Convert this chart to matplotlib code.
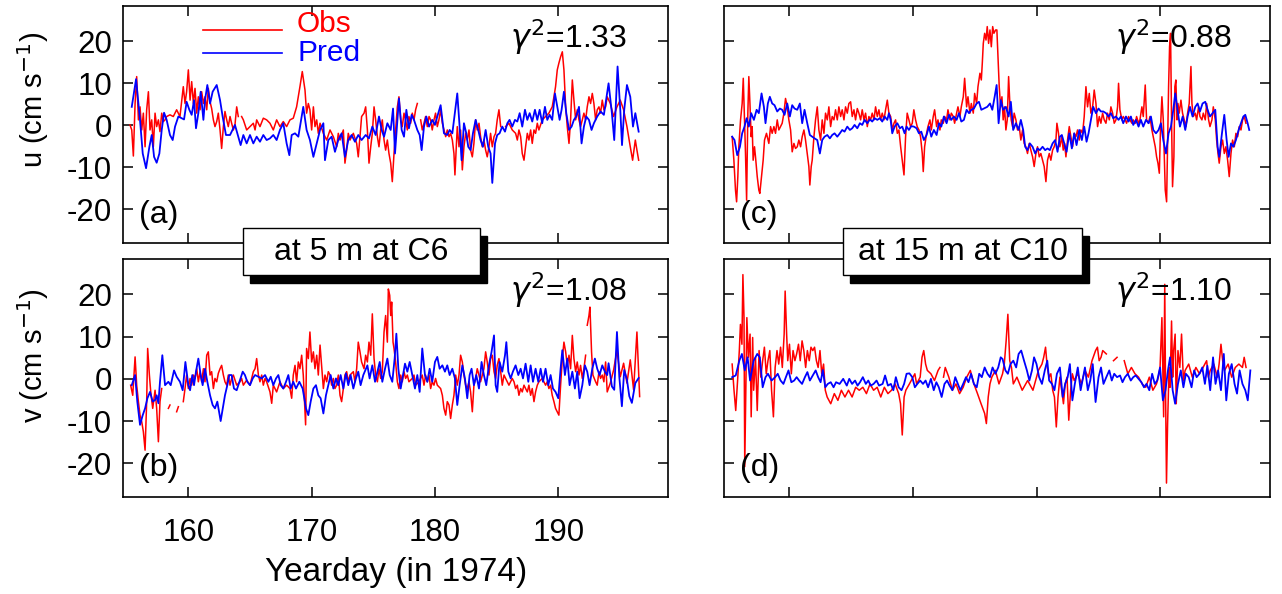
import numpy as np
import matplotlib
matplotlib.use('Agg')
import matplotlib.pyplot as plt
from matplotlib.patches import Rectangle
from matplotlib.lines import Line2D

plt.rcParams['font.family'] = ['Liberation Sans', 'DejaVu Sans']
plt.rcParams['mathtext.fontset'] = 'dejavusans'
plt.rcParams['axes.unicode_minus'] = False
nan = np.nan

# ---------------- data (yearday, cm/s) ----------------
a_obs = [(155.27,0.1),(155.41,-1.1),(155.54,-7.3),(155.68,5.2),(155.81,11.6),(155.95,1.3),(156.08,4.4),(156.22,-1.1),(156.35,2.9),(156.49,-5.1),(156.62,3.7),(156.76,8.0),(156.89,-1.1),(157.03,1.3),(157.16,-5.1),(157.30,2.9),(157.43,-0.3),(157.57,1.3),(157.70,-1.5),(157.84,2.9),(157.97,0.9),(158.11,1.3),(158.24,2.1),(158.51,2.5),(158.78,2.1),(159.05,3.7),(159.32,2.1),(159.59,9.2),(159.73,5.2),(159.86,8.0),(160.00,13.2),(160.14,6.0),(160.27,10.4),(160.41,5.2),(160.54,8.8),(160.68,2.9),(160.81,6.8),(160.95,3.7),(161.08,8.0),(161.22,5.2),(161.35,6.8),(161.49,3.7),(161.62,8.8),(161.76,5.6),(161.89,4.0),(162.03,1.3),(162.16,-0.3),(162.30,0.9),(162.43,2.9),(162.57,-1.1),(162.70,-5.5),(162.84,-0.3),(162.97,3.3),(163.11,1.3),(163.24,-0.3),(163.38,2.1),(163.51,0.5),(163.65,-1.1),(163.78,0.1),(163.92,4.4),(164.05,2.1),(164.2,nan),(164.32,2.1),(164.46,1.3),(164.73,-1.1),(165.00,-0.3),(165.27,0.5),(165.41,-1.1),(165.54,1.3),(165.81,-0.3),(166.08,1.7),(166.35,1.3),(166.62,0.5),(166.89,-1.1),(167.16,1.3),(167.43,-0.3),(167.70,0.9),(167.97,-0.3),(168.24,1.3),(168.51,1.7),(168.78,4.4),(169.05,9.2),(169.24,12.8),(169.46,8.4),(169.59,2.9),(169.73,5.2),(169.86,3.7),(170.00,-1.1),(170.14,4.4),(170.27,-0.3),(170.41,1.3),(170.54,-1.9),(170.68,0.5),(170.95,-1.9),(171.22,-3.5),(171.49,-1.1),(171.76,-2.7),(172.03,-5.1),(172.16,-1.9),(172.30,-3.5),(172.57,-1.1),(172.70,-9.0),(172.84,-5.9),(172.97,-1.9),(173.11,-3.5),(173.38,-1.9),(173.65,-4.3),(173.78,-7.5),(173.92,-2.7),(174.05,2.1),(174.25,2.9),(174.38,4.4),(174.52,-1.1),(174.65,-9.0),(174.79,-5.1),(174.92,-1.9),(175.06,4.4),(175.19,1.3),(175.33,-2.7),(175.46,-5.1),(175.60,-1.1),(175.73,1.3),(175.87,-3.5),(176.00,-5.9),(176.14,-3.5),(176.27,-6.7),(176.41,-9.0),(176.54,-13.4),(176.68,-6.7),(176.81,-1.1),(176.95,4.4),(177.08,6.8),(177.22,1.3),(177.35,-0.3),(177.49,2.9),(177.62,1.3),(177.76,-1.1),(177.89,2.1),(178.03,0.5),(178.16,2.9),(178.30,1.3),(178.43,3.7),(178.57,5.2),(178.7,nan),(178.84,1.3),(178.97,-1.1),(179.11,0.5),(179.24,2.1),(179.38,-0.3),(179.52,2.1),(179.65,1.3),(179.78,-1.1),(179.92,1.3),(180.05,2.9),(180.19,-0.3),(180.32,1.3),(180.46,3.7),(180.60,0.5),(180.73,-1.1),(180.87,-2.7),(181.00,-1.1),(181.14,-2.7),(181.27,-1.9),(181.41,-3.5),(181.54,-6.7),(181.62,-11.8),(181.73,-5.1),(181.81,-0.3),(181.95,-5.1),(182.08,-1.1),(182.22,-10.6),(182.35,-5.1),(182.49,-1.9),(182.62,-3.5),(182.76,-1.1),(182.89,-5.9),(183.03,-7.5),(183.16,-4.3),(183.30,1.3),(183.43,-1.1),(183.57,0.5),(183.70,-2.7),(183.84,-5.1),(183.97,-3.5),(184.11,-5.9),(184.24,-7.5),(184.38,-5.1),(184.51,-1.9),(184.65,-5.1),(184.79,-2.7),(184.92,-1.9),(185.05,1.3),(185.19,3.7),(185.33,-0.3),(185.5,nan),(185.73,-0.3),(186.00,0.5),(186.27,-1.1),(186.54,-1.9),(186.68,-3.5),(186.81,-1.1),(186.95,-2.7),(187.08,-6.7),(187.22,-8.3),(187.35,-5.1),(187.49,-1.9),(187.62,-3.5),(187.76,-1.1),(187.89,-4.3),(188.03,-1.1),(188.16,-1.9),(188.30,0.5),(188.43,-1.1),(188.70,1.3),(188.97,2.1),(189.24,2.9),(189.51,4.4),(189.65,6.8),(189.78,9.2),(189.92,13.2),(190.05,14.8),(190.19,16.3),(190.33,17.5),(190.46,13.2),(190.60,4.4),(190.73,-0.3),(190.87,-4.3),(191.00,1.3),(191.14,10.8),(191.27,6.0),(191.41,1.3),(191.54,3.7),(191.68,1.3),(191.81,-0.3),(191.95,1.3),(192.08,2.9),(192.22,1.3),(192.35,4.4),(192.49,6.8),(192.62,5.2),(192.76,7.6),(192.89,5.2),(193.03,1.3),(193.16,3.7),(193.30,4.4),(193.43,2.9),(193.57,6.0),(193.70,3.7),(193.84,4.4),(193.97,6.8),(194.22,5.2),(194.49,2.1),(194.76,4.4),(195.03,6.0),(195.30,3.7),(195.57,-0.3),(195.84,-5.1),(196.03,-8.3),(196.25,-3.5),(196.38,-5.9),(196.52,-8.3)]

a_pred = [(155.41,4.4),(155.76,11.0),(156.08,1.3),(156.30,-6.7),(156.57,-10.2),(156.84,-5.1),(157.03,-2.3),(157.22,-7.5),(157.43,-8.9),(157.65,-6.7),(157.84,-1.1),(158.03,3.0),(158.24,1.3),(158.51,-2.3),(158.73,-3.5),(158.92,-0.3),(159.19,2.1),(159.46,1.7),(159.65,1.4),(159.86,5.6),(160.08,3.7),(160.27,2.5),(160.46,6.0),(160.62,-0.7),(160.81,2.9),(161.00,8.0),(161.22,1.3),(161.35,6.0),(161.54,9.6),(161.76,5.2),(161.97,8.0),(162.30,9.6),(162.57,6.0),(162.78,2.1),(163.05,-2.3),(163.38,-2.3),(163.78,0.1),(164.05,-2.7),(164.24,-4.7),(164.46,-2.3),(164.73,-4.3),(165.00,-2.3),(165.27,-4.3),(165.54,-2.7),(165.81,-3.9),(166.08,-2.3),(166.35,-3.5),(166.62,-3.1),(166.89,-2.3),(167.16,-3.5),(167.43,-1.1),(167.70,0.5),(167.97,-4.3),(168.19,-7.1),(168.38,-2.3),(168.65,-1.9),(168.92,-2.7),(169.32,4.4),(169.59,-1.1),(169.86,-3.5),(170.14,-7.5),(170.41,-4.3),(170.68,-1.1),(170.95,0.5),(171.08,-8.3),(171.35,-3.5),(171.62,-2.7),(171.89,-6.3),(172.16,-3.5),(172.43,-1.9),(172.70,-7.5),(172.97,-3.5),(173.24,-2.3),(173.51,-3.9),(173.78,-2.3),(174.05,-3.5),(174.38,-2.3),(174.65,-3.1),(174.92,-0.3),(175.19,-2.3),(175.46,2.1),(175.68,-1.1),(175.87,-2.7),(176.14,0.5),(176.41,-1.1),(176.60,4.0),(176.76,-6.7),(176.95,1.3),(177.08,6.4),(177.30,-1.1),(177.49,-2.7),(177.68,3.7),(177.89,-0.7),(178.11,2.5),(178.30,1.3),(178.57,-1.1),(178.76,-2.3),(178.92,-5.9),(179.11,-0.3),(179.30,2.1),(179.52,-0.3),(179.78,1.3),(180.00,0.1),(180.19,2.1),(180.46,4.8),(180.73,-1.9),(181.00,-2.3),(181.19,-1.1),(181.41,-1.9),(181.81,7.6),(182.00,-0.3),(182.16,-8.3),(182.35,0.5),(182.54,-1.9),(182.70,-5.1),(182.89,-5.9),(183.08,-1.9),(183.30,1.3),(183.51,-1.1),(183.70,-3.5),(183.89,-5.1),(184.11,-1.1),(184.32,-5.1),(184.51,-6.7),(184.65,-13.7),(184.87,-4.3),(185.05,-2.3),(185.24,-1.9),(185.46,-0.3),(185.68,-1.5),(185.87,0.5),(186.05,1.3),(186.27,-0.3),(186.49,1.3),(186.68,0.9),(186.87,2.9),(187.08,-0.3),(187.30,3.7),(187.49,1.3),(187.68,2.9),(187.89,0.9),(188.11,3.7),(188.30,1.3),(188.49,3.7),(188.70,0.5),(188.92,4.4),(189.11,1.3),(189.30,2.5),(189.51,1.3),(189.73,7.6),(189.92,4.4),(190.11,1.3),(190.27,3.7),(190.46,8.0),(190.65,2.9),(190.87,-1.1),(191.08,-0.3),(191.27,1.3),(191.46,2.1),(191.68,4.4),(191.89,-4.3),(192.08,-0.3),(192.27,2.1),(192.49,1.3),(192.70,-1.1),(192.89,0.5),(193.16,2.1),(193.43,3.3),(193.70,2.5),(194.08,10.0),(194.35,2.9),(194.54,-3.5),(194.81,14.0),(195.03,3.7),(195.17,-4.7),(195.35,3.7),(195.57,9.6),(195.84,6.8),(196.06,-0.3),(196.25,2.9),(196.52,-1.5)]

b_obs = [(155.32,-1.5),(155.49,-3.9),(155.68,5.2),(155.81,-1.5),(155.95,-5.4),(156.08,-8.6),(156.22,-10.2),(156.35,-12.5),(156.49,-16.9),(156.62,-5.4),(156.70,7.2),(156.84,0.9),(156.95,-3.1),(157.11,-7.0),(157.30,-2.7),(157.43,-7.0),(157.57,-14.9),(157.70,-5.4),(157.84,-2.3),(158.0,nan),(158.38,-7.0),(158.51,-6.2),(158.7,nan),(159.05,-7.8),(159.19,-6.6),(159.4,nan),(159.59,-5.4),(159.73,-2.3),(159.86,0.9),(160.00,-2.3),(160.14,0.1),(160.27,-1.5),(160.41,0.9),(160.54,0.1),(160.68,2.4),(160.81,-0.7),(160.95,1.7),(161.08,-0.7),(161.22,2.4),(161.35,-0.7),(161.49,5.6),(161.62,6.4),(161.76,0.9),(161.89,1.7),(162.03,-2.3),(162.16,0.1),(162.30,-0.7),(162.43,1.3),(162.57,2.4),(162.70,3.2),(162.84,0.9),(162.97,-0.7),(163.11,-1.5),(163.24,0.9),(163.38,-1.5),(163.51,0.1),(163.65,0.9),(163.92,-1.5),(164.19,-0.7),(164.32,0.1),(164.46,-1.5),(164.73,-0.3),(165.00,-1.5),(165.27,1.7),(165.41,2.4),(165.54,4.8),(165.68,0.9),(165.81,-0.7),(165.95,0.9),(166.08,-1.5),(166.22,0.1),(166.35,-0.7),(166.62,-3.1),(166.76,-5.8),(166.89,-1.5),(167.16,-3.1),(167.43,-0.7),(167.70,-2.3),(167.97,-1.5),(168.24,-2.3),(168.38,-4.6),(168.51,0.9),(168.65,3.2),(168.78,-0.7),(168.92,4.0),(169.05,2.4),(169.19,5.6),(169.32,0.9),(169.51,-10.9),(169.59,7.2),(169.73,4.8),(169.86,11.1),(170.00,4.0),(170.14,6.4),(170.27,2.4),(170.41,5.6),(170.54,0.9),(170.68,8.0),(170.81,3.2),(170.95,-2.3),(171.08,0.9),(171.22,-0.7),(171.35,1.7),(171.49,0.9),(171.62,-1.5),(171.76,0.1),(171.89,-2.3),(172.03,-1.5),(172.16,0.9),(172.30,-3.9),(172.43,-5.4),(172.57,-2.3),(172.70,0.9),(172.84,1.7),(172.97,-0.7),(173.11,0.9),(173.38,1.7),(173.51,-0.7),(173.65,2.4),(173.78,8.7),(173.92,6.4),(174.05,4.0),(174.25,2.4),(174.38,5.6),(174.52,4.0),(174.65,8.7),(174.79,5.6),(174.92,15.4),(175.06,4.8),(175.19,0.9),(175.33,-0.7),(175.46,2.4),(175.60,0.1),(175.73,1.7),(175.87,11.1),(176.00,15.0),(176.14,8.7),(176.22,21.3),(176.33,19.8),(176.41,15.0),(176.49,18.2),(176.60,8.7),(176.68,7.2),(176.81,4.0),(176.95,-0.7),(177.08,-2.3),(177.22,0.9),(177.35,-0.7),(177.49,1.7),(177.62,0.1),(177.76,0.9),(177.89,-0.7),(178.16,0.1),(178.30,0.9),(178.43,-1.5),(178.70,-0.7),(178.97,0.9),(179.11,-1.5),(179.24,0.9),(179.38,-0.7),(179.52,0.9),(179.65,-2.3),(179.78,-0.7),(179.92,-1.5),(180.05,0.1),(180.19,-1.5),(180.46,-2.3),(180.60,-3.9),(180.73,-7.0),(180.87,-8.6),(181.00,-5.4),(181.14,-6.2),(181.27,-9.4),(181.41,-6.2),(181.54,-3.9),(181.68,0.9),(181.81,-1.5),(181.95,0.9),(182.08,5.6),(182.22,4.0),(182.35,0.9),(182.49,-1.5),(182.62,-2.3),(182.76,-0.7),(182.89,-3.1),(183.03,-7.8),(183.16,-1.5),(183.30,0.1),(183.43,2.4),(183.57,0.9),(183.70,-0.7),(183.84,0.9),(183.97,2.4),(184.11,6.4),(184.24,4.0),(184.38,0.9),(184.51,4.8),(184.65,5.6),(184.79,1.7),(184.92,0.1),(185.05,3.2),(185.19,4.8),(185.33,1.7),(185.46,-1.5),(185.60,0.9),(185.73,0.1),(186.00,-1.5),(186.27,0.1),(186.41,-0.7),(186.54,-2.3),(186.68,-1.5),(186.81,-3.9),(186.95,-2.3),(187.08,-3.1),(187.22,-1.5),(187.35,-2.3),(187.49,-3.1),(187.62,-1.5),(187.76,-3.9),(187.89,-2.3),(188.03,-5.4),(188.16,-3.1),(188.30,-1.5),(188.43,-0.7),(188.70,0.1),(188.97,-1.5),(189.11,-0.7),(189.24,-2.3),(189.38,-1.5),(189.51,-3.9),(189.65,-5.4),(189.78,-7.0),(189.92,-7.8),(190.05,-8.6),(190.19,-1.5),(190.33,4.8),(190.46,8.7),(190.60,6.4),(190.73,3.2),(190.87,5.6),(191.00,2.4),(191.14,10.3),(191.27,4.8),(191.41,1.7),(191.54,4.0),(191.68,0.9),(191.81,3.2),(191.95,0.1),(192.08,2.4),(192.22,5.6),(192.3,nan),(192.35,12.7),(192.49,15.0),(192.57,17.0),(192.70,6.4),(192.81,0.9),(193.03,-0.7),(193.16,-1.5),(193.30,1.7),(193.43,0.1),(193.57,0.9),(193.70,-0.7),(193.84,4.0),(193.97,-3.1),(194.22,-1.0),(194.49,2.1),(194.76,6.8),(195.03,0.5),(195.30,3.7),(195.57,-1.0),(195.84,4.5),(196.11,-2.6),(196.38,11.1),(196.60,-4.2)]

b_pred = [(155.41,-1.5),(155.68,0.9),(155.86,-5.4),(156.08,-10.9),(156.30,-8.6),(156.49,-7.0),(156.68,-4.6),(156.89,-3.1),(157.11,-5.4),(157.30,-5.0),(157.43,-3.9),(157.57,-5.8),(157.70,-0.7),(157.89,5.6),(158.11,-1.5),(158.38,-0.7),(158.57,-1.5),(158.84,2.0),(159.05,0.5),(159.32,-0.7),(159.54,-2.7),(159.76,4.0),(160.00,-1.5),(160.14,-2.7),(160.32,0.9),(160.46,-1.5),(160.62,1.7),(160.81,4.8),(161.00,0.9),(161.16,-1.5),(161.35,2.4),(161.54,-0.7),(161.76,-3.9),(161.97,-6.2),(162.16,-7.0),(162.35,-5.4),(162.62,-10.0),(162.84,-6.2),(162.97,-3.9),(163.16,-1.5),(163.32,0.9),(163.51,0.9),(163.70,-2.3),(163.92,-2.7),(164.14,-0.7),(164.41,1.7),(164.59,0.9),(164.78,-0.7),(165.00,-1.5),(165.22,0.1),(165.41,0.9),(165.68,0.5),(165.95,0.1),(166.22,0.9),(166.49,-0.7),(166.68,0.5),(166.89,-1.5),(167.11,0.1),(167.30,0.9),(167.49,-1.5),(167.70,-2.3),(167.92,-0.7),(168.11,0.9),(168.30,-2.3),(168.51,-0.7),(168.73,-2.3),(169.00,-0.7),(169.27,-2.3),(169.54,-7.0),(169.73,-8.6),(169.92,-5.4),(170.14,-2.3),(170.35,-1.5),(170.54,-3.9),(170.73,-4.6),(170.95,-8.2),(171.16,-3.9),(171.35,-1.5),(171.54,0.9),(171.76,-2.3),(171.97,0.1),(172.16,-1.5),(172.35,0.9),(172.57,-2.3),(172.78,1.3),(172.97,-1.5),(173.16,0.9),(173.38,-2.3),(173.59,0.1),(173.78,1.7),(173.97,-1.5),(174.19,0.9),(174.52,3.2),(174.70,0.1),(174.92,3.2),(175.14,-0.7),(175.33,1.7),(175.52,4.0),(175.73,-0.7),(175.95,2.4),(176.14,4.8),(176.33,0.9),(176.54,-0.7),(176.73,4.8),(176.87,10.7),(177.03,2.4),(177.22,-2.3),(177.41,0.9),(177.57,3.6),(177.76,1.7),(177.95,4.0),(178.16,0.9),(178.38,-2.3),(178.57,0.9),(178.76,-3.1),(178.97,7.2),(179.19,0.9),(179.38,-0.7),(179.57,2.4),(179.78,-0.7),(180.00,4.0),(180.19,5.2),(180.38,2.4),(180.60,3.2),(180.81,1.7),(181.00,3.2),(181.19,0.9),(181.41,2.4),(181.62,0.1),(181.81,-6.2),(182.00,-1.5),(182.22,3.2),(182.43,0.1),(182.62,-4.6),(182.81,0.9),(182.97,2.4),(183.16,-1.5),(183.35,0.9),(183.57,-2.3),(183.78,4.0),(183.97,0.9),(184.16,-1.5),(184.38,3.2),(184.59,6.4),(184.79,10.3),(184.92,-1.5),(185.05,-3.1),(185.24,4.0),(185.46,1.7),(185.68,5.6),(185.79,8.7),(185.95,1.7),(186.14,0.1),(186.32,1.7),(186.54,3.2),(186.76,0.9),(186.95,2.4),(187.14,0.1),(187.35,3.6),(187.57,-0.7),(187.76,3.2),(187.95,-0.7),(188.16,2.4),(188.38,-0.7),(188.57,2.4),(188.76,-0.7),(188.97,2.4),(189.19,-1.5),(189.38,0.9),(189.57,-2.3),(189.78,-3.1),(190.00,-4.6),(190.19,2.4),(190.33,6.8),(190.54,0.9),(190.73,4.8),(190.92,-1.5),(191.14,1.7),(191.35,-2.3),(191.54,1.7),(191.73,-4.6),(191.95,-1.5),(192.16,3.2),(192.35,1.7),(192.54,-1.5),(192.76,2.4),(192.97,4.8),(193.16,2.4),(193.35,0.9),(193.57,3.2),(193.78,1.7),(193.97,0.9),(194.08,3.7),(194.35,-1.8),(194.54,-2.6),(194.76,11.1),(194.95,0.5),(195.16,-6.5),(195.35,2.1),(195.57,-0.2),(195.76,-4.1),(195.97,-5.7),(196.25,-1.0),(196.52,0.2)]

c_obs = [(155.36,-2.7),(155.50,-8.3),(155.63,-15.4),(155.72,-18.2),(155.82,-12.2),(155.90,-5.1),(156.04,1.3),(156.17,5.2),(156.26,11.2),(156.36,1.3),(156.44,-6.7),(156.53,-17.8),(156.63,2.9),(156.71,11.6),(156.80,5.2),(156.90,-2.7),(156.98,-0.3),(157.06,-8.3),(157.17,-5.1),(157.25,-7.5),(157.39,-12.2),(157.52,-15.4),(157.60,-16.2),(157.71,-13.0),(157.87,-8.3),(157.98,-3.5),(158.14,-1.9),(158.33,-4.3),(158.47,-0.3),(158.60,-1.9),(158.74,-0.3),(158.87,-1.9),(159.01,1.3),(159.14,-1.1),(159.28,-0.3),(159.41,0.5),(159.55,2.9),(159.68,6.4),(159.82,4.4),(159.95,1.3),(160.09,-1.1),(160.22,-6.3),(160.36,-4.3),(160.49,-5.5),(160.63,-5.1),(160.76,-3.5),(160.90,-5.1),(161.03,-2.7),(161.17,-1.1),(161.30,-3.5),(161.44,-6.7),(161.57,-9.8),(161.65,-14.2),(161.76,-9.8),(161.84,-8.3),(161.98,-2.7),(162.11,1.3),(162.25,4.4),(162.38,-1.1),(162.52,-3.5),(162.65,1.3),(162.79,-1.9),(162.92,2.9),(163.06,1.3),(163.19,4.4),(163.33,-0.3),(163.46,2.1),(163.60,1.3),(163.73,3.7),(163.87,1.3),(164.00,4.4),(164.14,2.1),(164.27,3.7),(164.41,1.3),(164.54,4.4),(164.68,2.9),(164.81,5.2),(164.95,5.6),(165.08,2.1),(165.22,3.7),(165.35,1.3),(165.49,4.0),(165.62,2.9),(165.76,1.3),(165.89,3.7),(166.03,1.3),(166.16,2.9),(166.30,-0.3),(166.43,2.1),(166.57,1.3),(166.70,2.9),(166.84,1.3),(166.97,4.4),(167.11,2.1),(167.24,3.7),(167.38,1.3),(167.51,2.9),(167.65,1.3),(167.78,3.7),(167.92,6.0),(168.05,2.9),(168.19,2.1),(168.32,-1.1),(168.46,0.5),(168.59,1.3),(168.73,-1.9),(168.86,-1.1),(169.00,-5.1),(169.13,-8.3),(169.27,-11.8),(169.40,-2.7),(169.53,2.9),(169.67,1.3),(169.80,-0.3),(169.94,0.5),(170.07,3.7),(170.21,1.3),(170.34,-0.3),(170.48,-1.1),(170.61,-2.7),(170.75,-6.7),(170.83,-11.0),(170.94,-5.1),(171.10,-1.9),(171.21,-0.3),(171.37,1.3),(171.48,-1.1),(171.64,2.1),(171.75,3.7),(171.91,-0.3),(172.02,1.3),(172.18,-1.1),(172.29,1.3),(172.45,0.5),(172.56,2.1),(172.72,1.3),(172.83,3.7),(172.99,1.3),(173.10,2.9),(173.26,2.1),(173.37,0.5),(173.53,2.9),(173.64,4.4),(173.80,2.1),(173.91,4.4),(174.07,6.8),(174.18,11.2),(174.34,4.4),(174.45,6.8),(174.61,2.9),(174.72,5.2),(174.88,2.9),(174.99,7.6),(175.15,5.2),(175.26,9.2),(175.42,12.4),(175.53,10.8),(175.61,14.8),(175.69,19.5),(175.80,21.9),(175.91,20.3),(176.01,23.5),(176.12,19.5),(176.23,22.7),(176.34,18.7),(176.45,23.5),(176.55,21.9),(176.69,22.7),(176.79,22.7),(176.87,17.1),(176.98,9.2),(177.09,4.4),(177.20,6.8),(177.30,1.3),(177.41,4.4),(177.52,-1.1),(177.63,1.3),(177.74,11.6),(177.84,5.2),(177.95,1.3),(178.06,-0.3),(178.19,2.9),(178.33,1.3),(178.46,-1.1),(178.60,-0.3),(178.73,-3.5),(178.87,-1.1),(179.00,-4.3),(179.14,-5.1),(179.27,-6.7),(179.41,-4.3),(179.54,-5.9),(179.68,-7.5),(179.81,-9.8),(179.95,-6.7),(180.08,-5.1),(180.22,-7.5),(180.35,-6.7),(180.49,-8.3),(180.62,-9.8),(180.76,-13.4),(180.89,-8.3),(181.03,-6.7),(181.16,-8.3),(181.30,-5.9),(181.43,-5.1),(181.57,-3.5),(181.65,0.5),(181.78,-1.9),(181.89,-5.1),(182.05,-2.7),(182.16,-5.9),(182.27,-4.3),(182.38,-7.5),(182.51,-3.5),(182.65,-0.3),(182.78,-2.7),(182.92,-5.1),(183.05,-1.9),(183.19,-2.7),(183.32,-1.1),(183.46,-3.5),(183.59,-1.1),(183.73,-1.9),(183.86,2.1),(184.00,9.2),(184.13,4.4),(184.27,7.6),(184.40,2.9),(184.54,4.4),(184.67,8.4),(184.81,5.2),(184.94,-0.3),(185.08,2.1),(185.21,0.5),(185.35,2.9),(185.48,1.3),(185.62,0.5),(185.75,2.9),(185.89,1.3),(186.02,4.4),(186.16,2.9),(186.29,0.5),(186.43,1.3),(186.56,4.4),(186.64,10.0),(186.75,3.7),(186.91,1.3),(187.02,2.1),(187.18,1.3),(187.29,0.5),(187.45,2.1),(187.56,1.3),(187.72,0.5),(187.83,1.3),(187.99,0.5),(188.10,2.1),(188.26,0.5),(188.37,1.3),(188.53,4.4),(188.64,2.1),(188.80,9.6),(188.91,1.3),(189.07,0.5),(189.18,2.1),(189.34,-1.1),(189.45,-2.7),(189.61,-5.1),(189.72,-7.5),(189.83,-9.0),(189.94,-11.4),(190.04,-0.3),(190.15,6.8),(190.26,1.3),(190.34,-6.7),(190.42,-15.4),(190.53,-18.2),(190.61,-5.1),(190.69,9.2),(190.77,18.7),(190.85,21.9),(190.93,1.3),(191.01,-14.6),(191.12,-7.5),(191.20,9.2),(191.28,10.8),(191.37,1.3),(191.45,5.2),(191.55,2.9),(191.69,6.0),(191.82,2.9),(191.96,1.3),(192.09,-0.3),(192.23,2.9),(192.36,5.2),(192.50,14.0),(192.58,5.2),(192.69,2.1),(192.85,2.9),(192.96,1.3),(193.12,4.4),(193.23,2.1),(193.39,1.3),(193.50,2.9),(193.66,1.3),(193.77,5.2),(193.93,1.3),(194.04,-0.3),(194.20,1.3),(194.31,4.4),(194.47,1.3),(194.58,-3.5),(194.69,-6.7),(194.79,-9.0),(194.93,-5.1),(195.06,-3.5),(195.20,-6.7),(195.33,-5.1),(195.47,-8.3),(195.60,-12.2),(195.74,-6.7),(195.87,-3.5),(196.01,-5.1),(196.14,-1.9),(196.28,-2.7),(196.41,-0.3),(196.55,-1.1),(196.68,1.3),(196.82,2.1),(196.95,0.5)]

c_pred = [(155.36,-2.7),(155.55,-3.5),(155.77,-7.1),(155.99,-5.1),(156.17,-1.9),(156.36,-0.3),(156.53,1.7),(156.71,-0.3),(156.90,2.9),(157.12,1.3),(157.34,3.7),(157.52,2.9),(157.74,7.6),(157.93,4.4),(158.06,0.5),(158.25,5.2),(158.41,6.8),(158.60,5.2),(158.79,4.8),(159.01,3.3),(159.22,4.0),(159.41,3.7),(159.60,2.5),(159.82,5.2),(160.03,2.1),(160.22,4.8),(160.41,4.0),(160.63,3.7),(160.84,5.2),(161.03,0.5),(161.22,3.7),(161.44,0.5),(161.65,-2.3),(161.84,-2.7),(162.03,-3.1),(162.25,-3.5),(162.46,-6.7),(162.65,-3.5),(162.84,-2.7),(163.06,-2.3),(163.27,-3.1),(163.46,-2.3),(163.65,-1.9),(163.87,-2.7),(164.08,-1.9),(164.27,-1.1),(164.46,-1.5),(164.68,-0.3),(164.89,-1.1),(165.08,-0.7),(165.27,0.1),(165.49,-0.7),(165.70,0.5),(165.89,0.1),(166.08,1.3),(166.30,0.5),(166.51,1.4),(166.70,0.9),(166.89,1.7),(167.11,1.3),(167.32,1.7),(167.51,0.9),(167.70,2.1),(167.92,1.3),(168.05,2.9),(168.19,1.3),(168.32,-1.9),(168.51,-0.3),(168.73,0.5),(168.94,-0.7),(169.13,-0.3),(169.32,-1.9),(169.48,-0.3),(169.67,-1.1),(169.86,-0.2),(170.07,-0.3),(170.29,-0.7),(170.48,-1.9),(170.67,-1.5),(170.88,-3.5),(171.10,-2.3),(171.29,-0.3),(171.48,-2.7),(171.69,-1.1),(171.91,-2.3),(172.10,0.5),(172.29,-0.3),(172.50,2.1),(172.72,0.5),(172.91,2.5),(173.10,1.3),(173.31,2.1),(173.53,1.3),(173.72,2.9),(173.91,0.9),(174.12,1.3),(174.34,3.7),(174.53,2.9),(174.72,3.7),(174.93,4.0),(175.15,5.2),(175.34,5.6),(175.53,3.7),(175.74,4.0),(176.01,4.4),(176.23,5.2),(176.42,3.7),(176.61,6.8),(176.77,9.6),(176.93,0.5),(177.11,6.0),(177.30,3.7),(177.52,4.4),(177.74,2.1),(177.92,5.6),(178.11,-1.1),(178.33,0.5),(178.55,-1.1),(178.73,1.3),(178.92,-1.1),(179.08,-5.1),(179.27,-5.9),(179.46,-4.3),(179.68,-5.1),(179.89,-6.7),(180.08,-5.5),(180.27,-5.9),(180.49,-5.1),(180.70,-5.9),(180.89,-5.5),(181.08,-5.9),(181.30,-4.3),(181.51,-3.5),(181.70,-6.3),(181.89,-2.7),(182.05,-2.3),(182.24,-4.3),(182.43,-6.3),(182.65,-1.9),(182.86,-5.5),(183.05,-1.9),(183.24,-4.7),(183.46,-1.1),(183.67,-3.5),(183.86,-0.3),(184.05,-3.9),(184.21,-1.9),(184.40,1.3),(184.59,4.4),(184.81,2.9),(185.02,4.0),(185.21,3.3),(185.40,3.3),(185.62,2.9),(185.83,2.1),(186.02,2.9),(186.21,1.7),(186.43,2.1),(186.64,1.3),(186.83,2.1),(187.02,0.5),(187.24,2.1),(187.45,0.9),(187.64,2.1),(187.83,0.1),(188.05,1.3),(188.26,-0.3),(188.45,1.3),(188.64,-0.3),(188.86,1.3),(189.07,0.5),(189.26,2.1),(189.45,-1.1),(189.67,-1.9),(189.88,-1.1),(190.07,0.5),(190.26,-3.5),(190.48,-6.7),(190.69,-1.9),(190.88,-0.3),(191.07,3.7),(191.23,7.6),(191.42,3.7),(191.61,-0.3),(191.83,2.1),(192.04,-1.1),(192.23,2.1),(192.42,4.4),(192.63,2.1),(192.85,4.4),(193.04,5.2),(193.23,3.3),(193.44,5.2),(193.66,5.6),(193.85,3.7),(194.04,2.1),(194.25,2.9),(194.47,3.7),(194.66,-5.1),(194.79,-7.5),(195.01,-1.9),(195.20,2.5),(195.39,-3.5),(195.55,-7.5),(195.74,-4.3),(195.93,-5.1),(196.14,-3.5),(196.36,-1.1),(196.55,0.5),(196.74,2.1),(196.90,2.5),(197.09,0.5),(197.22,-1.1)]

d_obs = [(155.36,3.5),(155.51,-2.7),(155.65,-7.5),(155.80,-0.4),(155.94,6.7),(156.03,12.9),(156.15,8.2),(156.23,24.7),(156.32,14.5),(156.38,-20.8),(156.47,-1.2),(156.55,14.5),(156.67,5.1),(156.81,10.6),(156.90,-9.0),(157.02,9.8),(157.10,-2.7),(157.25,5.1),(157.39,-7.5),(157.54,6.7),(157.68,0.4),(157.83,4.3),(157.97,7.5),(158.12,1.2),(158.26,4.3),(158.41,6.7),(158.55,-2.7),(158.70,-9.0),(158.84,2.7),(158.99,6.7),(159.13,3.5),(159.28,7.5),(159.42,2.7),(159.57,10.6),(159.65,20.8),(159.77,10.6),(159.86,4.3),(160.00,8.2),(160.15,1.2),(160.29,6.7),(160.44,4.3),(160.58,5.9),(160.73,8.2),(160.87,4.3),(161.02,9.0),(161.16,6.7),(161.31,2.7),(161.45,6.7),(161.60,4.3),(161.74,7.5),(161.89,6.7),(162.03,7.5),(162.18,4.3),(162.32,2.7),(162.47,6.7),(162.61,1.2),(162.76,3.5),(162.90,-2.7),(163.05,-4.3),(163.34,-5.9),(163.63,-3.5),(163.92,-5.1),(164.20,-2.7),(164.49,-4.3),(164.78,-2.7),(165.07,-4.3),(165.36,-2.0),(165.65,-2.7),(165.94,-2.0),(166.23,-3.5),(166.52,-1.2),(166.81,-2.7),(167.10,-2.0),(167.39,-4.3),(167.68,-2.0),(167.97,-3.5),(168.26,-2.7),(168.55,-1.2),(168.84,-3.5),(168.99,-5.9),(169.13,-13.3),(169.28,-4.3),(169.42,-2.7),(169.71,-1.2),(170.00,0.4),(170.15,1.2),(170.29,-1.2),(170.58,0.4),(170.73,5.1),(170.87,6.7),(171.02,3.5),(171.16,2.0),(171.45,1.2),(171.74,-0.4),(172.03,2.0),(172.18,2.7),(172.3,nan),(172.47,0.4),(172.61,2.7),(172.90,0.4),(173.19,-2.7),(173.48,-1.2),(173.77,-3.5),(174.06,-2.0),(174.35,0.4),(174.64,2.0),(174.93,-1.2),(175.22,-3.5),(175.51,-5.9),(175.80,-8.2),(175.94,-10.6),(176.09,-4.3),(176.23,-1.2),(176.38,0.4),(176.67,2.0),(176.96,-1.2),(177.25,1.2),(177.39,3.5),(177.54,9.0),(177.68,15.3),(177.83,4.3),(177.97,2.7),(178.12,-1.2),(178.41,0.4),(178.84,-2.7),(179.28,-0.4),(179.71,-2.7),(180.15,2.0),(180.44,3.5),(180.58,5.1),(180.73,7.5),(180.87,2.7),(181.02,0.4),(181.16,1.2),(181.31,-2.7),(181.45,-4.3),(181.60,-11.4),(181.74,-4.3),(181.89,0.4),(182.03,-2.7),(182.18,-5.9),(182.32,-1.2),(182.47,0.4),(182.61,-9.8),(182.76,-2.7),(182.90,1.2),(183.05,-0.4),(183.34,1.2),(183.63,-1.2),(183.92,2.0),(184.20,0.4),(184.49,4.3),(184.78,6.7),(184.93,7.5),(185.07,4.3),(185.22,5.1),(185.36,6.7),(185.65,5.9),(185.8,nan),(186.23,4.3),(186.52,5.1),(186.7,nan),(187.10,4.3),(187.39,1.2),(187.68,2.7),(187.97,1.2),(188.26,0.4),(188.55,-1.2),(188.84,-2.0),(189.13,0.4),(189.42,-2.7),(189.71,-1.2),(189.86,0.4),(190.00,2.7),(190.15,14.5),(190.29,-9.0),(190.38,22.4),(190.44,-1.2),(190.52,-24.7),(190.61,-10.6),(190.73,2.7),(190.81,-2.0),(190.93,13.7),(191.02,0.4),(191.10,6.7),(191.22,10.6),(191.31,-5.9),(191.45,6.7),(191.60,2.7),(191.74,10.6),(191.89,-0.4),(192.03,2.0),(192.32,3.5),(192.61,0.4),(192.90,2.7),(193.19,1.2),(193.48,2.7),(193.77,4.3),(193.91,0.4),(194.06,2.0),(194.35,3.5),(194.64,0.4),(194.78,3.5),(194.93,8.2),(195.07,4.3),(195.22,2.0),(195.51,3.5),(195.80,0.4),(196.09,2.7),(196.38,3.5),(196.67,2.7),(196.81,5.1),(196.96,2.7)]

d_pred = [(155.36,0.4),(155.65,0.8),(155.94,4.3),(156.15,5.9),(156.38,2.0),(156.61,5.1),(156.81,-0.4),(157.10,4.3),(157.39,5.9),(157.60,5.1),(157.83,-2.0),(158.06,0.4),(158.26,1.2),(158.55,-0.4),(158.84,0.4),(159.05,1.2),(159.28,-0.4),(159.51,-1.2),(159.71,0.4),(159.92,2.0),(160.15,-0.8),(160.38,-0.4),(160.58,0.4),(160.78,-0.4),(161.02,-1.2),(161.25,0.4),(161.45,1.6),(161.65,-0.4),(161.89,0.8),(162.12,2.0),(162.32,0.4),(162.52,-0.8),(162.70,2.1),(162.90,-2.0),(163.10,-1.2),(163.34,-0.8),(163.57,-2.0),(163.77,-0.8),(164.06,-1.2),(164.35,0.0),(164.64,-1.6),(164.84,0.0),(165.07,-1.2),(165.31,-0.4),(165.51,-1.6),(165.71,-0.8),(165.94,0.4),(166.18,-1.2),(166.38,-0.4),(166.58,-1.6),(166.81,-1.2),(167.05,-0.4),(167.25,-1.6),(167.54,-1.2),(167.74,0.8),(167.97,-1.6),(168.21,-1.2),(168.41,-2.7),(168.61,0.4),(168.84,-2.0),(169.07,-2.7),(169.28,-1.2),(169.48,1.2),(169.71,1.3),(169.94,0.4),(170.15,-2.0),(170.35,-1.2),(170.58,-0.4),(170.81,-1.2),(171.02,-0.4),(171.22,-2.0),(171.45,0.0),(171.68,-2.7),(171.89,-0.8),(172.09,-2.0),(172.32,-4.3),(172.55,-1.2),(172.76,-0.4),(172.96,-1.6),(173.19,-2.7),(173.42,0.4),(173.63,-1.2),(173.83,-2.7),(174.06,-1.2),(174.29,0.4),(174.49,-0.8),(174.70,1.2),(174.93,-1.2),(175.16,-2.0),(175.36,1.2),(175.57,0.4),(175.80,2.7),(176.03,1.2),(176.23,0.4),(176.44,2.7),(176.67,1.2),(176.90,2.7),(177.10,5.1),(177.25,4.7),(177.48,2.0),(177.68,1.2),(177.89,3.5),(178.12,4.3),(178.35,2.7),(178.55,5.9),(178.76,6.7),(178.99,4.3),(179.22,2.0),(179.42,-0.4),(179.63,2.0),(179.80,5.1),(180.00,3.5),(180.21,0.4),(180.44,-1.2),(180.67,2.0),(180.87,4.3),(181.02,-0.4),(181.25,-1.2),(181.45,-2.7),(181.65,1.2),(181.89,2.7),(182.12,-4.3),(182.32,-1.2),(182.52,0.4),(182.70,3.5),(182.90,-5.1),(183.10,-1.2),(183.34,2.7),(183.57,-2.7),(183.77,0.4),(183.92,2.7),(184.15,-2.7),(184.35,-0.4),(184.55,3.5),(184.78,-5.5),(185.02,0.4),(185.22,2.7),(185.42,-1.2),(185.65,0.4),(185.89,2.0),(186.09,-0.4),(186.29,1.2),(186.52,0.4),(186.76,0.8),(186.96,-0.8),(187.16,0.4),(187.39,1.2),(187.63,-0.4),(187.83,0.4),(188.03,0.8),(188.26,0.0),(188.49,-0.8),(188.70,-2.0),(188.90,-1.2),(189.13,-2.7),(189.36,1.2),(189.57,-1.2),(189.77,-0.4),(190.00,2.7),(190.23,-5.1),(190.44,-2.7),(190.64,2.0),(190.81,5.1),(191.02,-2.7),(191.22,-5.9),(191.45,-1.2),(191.68,2.0),(191.89,-2.0),(192.09,1.2),(192.32,0.4),(192.55,-2.0),(192.76,2.0),(192.96,0.4),(193.19,1.2),(193.42,2.7),(193.63,-1.2),(193.83,3.1),(194.06,-2.7),(194.29,5.1),(194.49,-1.2),(194.70,2.0),(194.93,-2.7),(195.16,5.9),(195.36,-5.1),(195.57,1.2),(195.80,3.5),(196.03,-1.2),(196.23,-3.5),(196.44,2.0),(196.67,-1.2),(196.90,-2.7),(197.10,-5.1),(197.31,2.0)]

panel_letters = ['(a)', '(b)', '(c)', '(d)']
gamma_labels = ['1.33', '1.08', '0.88', '1.10']
site_labels = ['at 5 m at C6', 'at 15 m at C10']
ylabels = ['u (cm s$^{-1}$)', 'v (cm s$^{-1}$)']
xticks = [160, 170, 180, 190]
yticks = [-20, -10, 0, 10, 20]
xlabel = 'Yearday (in 1974)'
legend_labels = ['Obs', 'Pred']

# ---------------- layout (pixels) ----------------
W, H = 1282, 594
fig = plt.figure(figsize=(W / 100, H / 100), dpi=100)
def fx(p): return p / W
def fy(p): return 1 - p / H

cols = [(123, 668), (724, 1270)]
rows = [(6, 243), (259, 497)]
OBS_C, PRED_C = '#ff0000', '#0000ff'
FS = 23

series = {(0, 0): (a_obs, a_pred), (1, 0): (b_obs, b_pred),
          (0, 1): (c_obs, c_pred), (1, 1): (d_obs, d_pred)}
letters = {(0, 0): panel_letters[0], (1, 0): panel_letters[1],
           (0, 1): panel_letters[2], (1, 1): panel_letters[3]}
gammas = {(0, 0): gamma_labels[0], (1, 0): gamma_labels[1],
          (0, 1): gamma_labels[2], (1, 1): gamma_labels[3]}

for (r, c), (obs, pred) in series.items():
    x0, x1 = cols[c]
    y0, y1 = rows[r]
    ax = fig.add_axes([fx(x0), fy(y1), (x1 - x0) / W, (y1 - y0) / H])
    o = np.array(obs); p = np.array(pred)
    ax.plot(o[:, 0], o[:, 1], color=OBS_C, lw=1.1, zorder=2)
    ax.plot(p[:, 0], p[:, 1], color=PRED_C, lw=1.3, zorder=3)
    ax.set_xlim(154.7, 198.9)
    ax.set_ylim(-28.0, 28.4)
    ax.set_xticks(xticks)
    ax.set_yticks(yticks)
    ax.tick_params(direction='in', length=7, width=1.1, top=True, right=True,
                   labelsize=22.5, color='black')
    ax.tick_params(axis='y', pad=8)
    ax.tick_params(axis='x', pad=15)
    if c == 1:
        ax.set_yticklabels([])
    if not (r == 1 and c == 0):
        ax.set_xticklabels([])
    for s in ax.spines.values():
        s.set_linewidth(1.2)
    ax.text(0.03, 0.12, letters[(r, c)], transform=ax.transAxes, fontsize=FS,
            ha='left', va='center')
    ax.text(0.925 if c == 0 else 0.93, 0.87, r'$\gamma^2$=' + gammas[(r, c)],
            transform=ax.transAxes, fontsize=FS, ha='right', va='center')

# y labels
fig.text(fx(33), fy(100), ylabels[0], rotation=90, ha='center', va='center', fontsize=21)
fig.text(fx(33), fy(356), ylabels[1], rotation=90, ha='center', va='center', fontsize=21)
# x label
fig.text(fx(396), fy(572), xlabel, ha='center', va='center', fontsize=24)

# site boxes with shadow
for (bx0, bx1), lab in zip([(243, 480), (843, 1082)], site_labels):
    by0, by1 = 228, 275
    fig.add_artist(Rectangle((fx(bx0 + 7), fy(by1 + 8)), (bx1 - bx0) / W, (by1 - by0) / H,
                             transform=fig.transFigure, facecolor='black', edgecolor='black', zorder=5))
    fig.add_artist(Rectangle((fx(bx0), fy(by1)), (bx1 - bx0) / W, (by1 - by0) / H,
                             transform=fig.transFigure, facecolor='white', edgecolor='black',
                             lw=1.0, zorder=6))
    fig.text(fx((bx0 + bx1) / 2), fy((by0 + by1) / 2 + 1), lab, ha='center', va='center',
             fontsize=FS, zorder=7)

# legend
fig.add_artist(Line2D([fx(203), fx(282)], [fy(30), fy(30)], transform=fig.transFigure,
                      color=OBS_C, lw=1.2, zorder=8))
fig.add_artist(Line2D([fx(203), fx(282)], [fy(53), fy(53)], transform=fig.transFigure,
                      color=PRED_C, lw=1.2, zorder=8))
fig.text(fx(297), fy(24), legend_labels[0], color=OBS_C, ha='left', va='center', fontsize=21.5, zorder=8)
fig.text(fx(298), fy(53), legend_labels[1], color=PRED_C, ha='left', va='center', fontsize=21.5, zorder=8)

fig.savefig('out.png', dpi=100, facecolor='white')
